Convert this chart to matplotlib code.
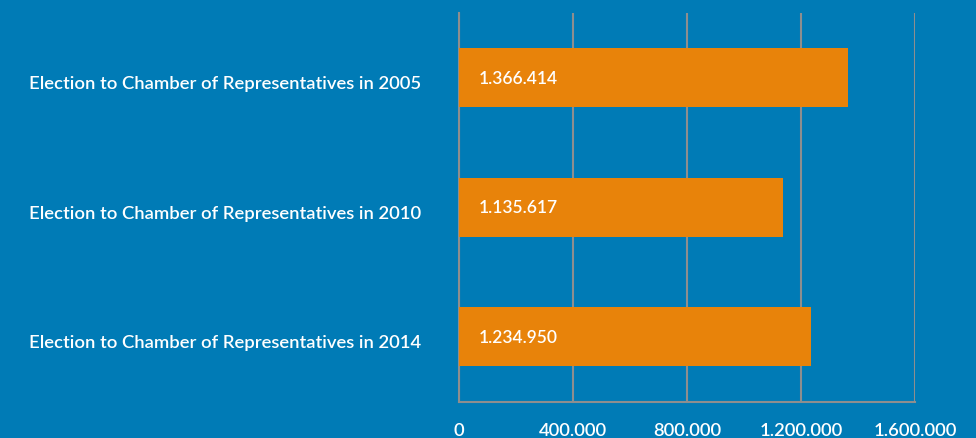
import matplotlib.pyplot as plt
import matplotlib.transforms as mtransforms
from matplotlib.ticker import FuncFormatter

# Votes cast per election
categories = [
    "Election to Chamber of Representatives in 2005",
    "Election to Chamber of Representatives in 2010",
    "Election to Chamber of Representatives in 2014",
]
votes = [1366414, 1135617, 1234950]
x_ticks = [0, 400000, 800000, 1200000, 1600000]

BG = "#007BB6"
BAR = "#E8830A"
GRID = "#8E8E8E"
FONT = ["Lato", "DejaVu Sans"]


def dotted(v, _pos=None):
    # thousands separated with dots
    return f"{int(v):,}".replace(",", ".")


fig = plt.figure(figsize=(9.76, 4.39), dpi=100, facecolor=BG)
ax = fig.add_axes([0.4703, 0.083, 0.4672, 0.885], facecolor=BG)

ypos = list(range(len(categories)))
ax.barh(ypos, votes, height=0.456, color=BAR, zorder=3)

ax.set_xlim(0, 1600000)
ax.set_ylim(len(categories) - 0.5, -0.5)
ax.set_xticks(x_ticks)
ax.xaxis.set_major_formatter(FuncFormatter(dotted))
ax.set_yticks(ypos)
ax.set_yticklabels(categories)

ax.grid(axis="x", color=GRID, linewidth=1.5, zorder=0)
ax.grid(axis="y", visible=False)
for side in ("top", "right"):
    ax.spines[side].set_visible(False)
for side in ("left", "bottom"):
    ax.spines[side].set_color(GRID)
    ax.spines[side].set_linewidth(1.5)

ax.tick_params(axis="y", length=0, pad=27, labelcolor="white", labelsize=13.3)
ax.tick_params(axis="x", length=0, pad=15, labelcolor="white", labelsize=13.2)
for lbl in ax.get_yticklabels() + ax.get_xticklabels():
    lbl.set_family(FONT)
    lbl.set_fontweight("semibold")

# category names sit a little below the bar centres
shift = mtransforms.ScaledTranslation(0, -4 / 100, fig.dpi_scale_trans)
for lbl in ax.get_yticklabels():
    lbl.set_transform(lbl.get_transform() + shift)

for y, v in zip(ypos, votes):
    ax.annotate(dotted(v), xy=(0, y), xytext=(14, 0), textcoords="offset points",
                ha="left", va="center", color="white", fontsize=12.5,
                family=FONT, fontweight="semibold", zorder=4)

fig.savefig("out.png", dpi=100, facecolor=BG)
